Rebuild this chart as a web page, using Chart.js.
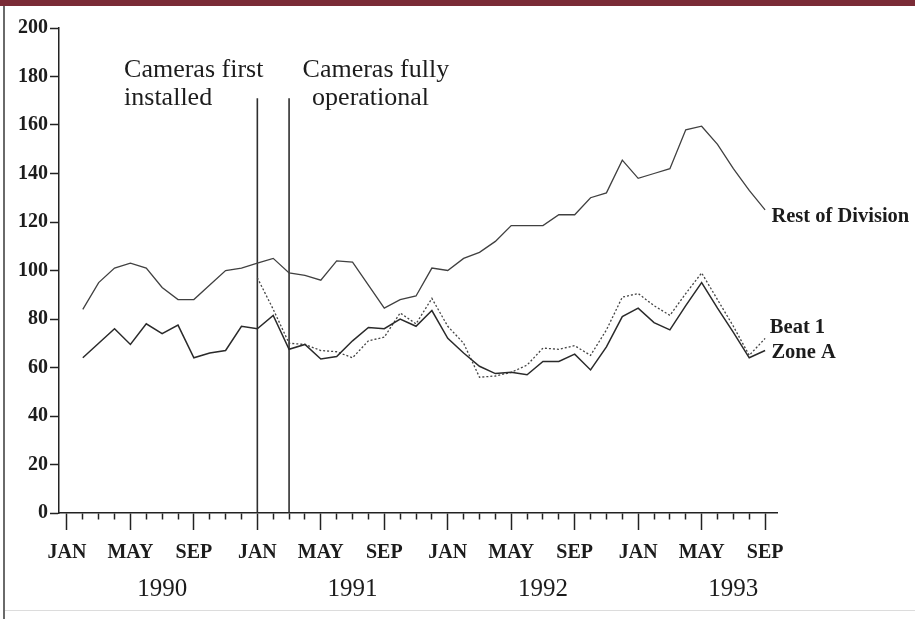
<!DOCTYPE html>
<html>
<head>
  <title>Cameras and crime counts</title>
  <script src="https://cdn.jsdelivr.net/npm/chart.js@4.4.0/dist/chart.umd.min.js"></script>
  <style>
    body { margin: 0; background: #fff; }
    #wrap { position: relative; width: 915px; height: 619px; overflow: hidden; }
    #topbar { position: absolute; left: 0; top: 0; width: 915px; height: 6px; background: #7a2b36; }
    #leftline { position: absolute; left: 3px; top: 6px; width: 2px; height: 613px; background: #6a6a6a; }
    #bottomline { position: absolute; left: 5px; top: 610px; width: 910px; height: 1px; background: #dcdcdc; }
    #chart { position: absolute; left: 0; top: 0; }
  </style>
</head>
<body>
<div id="wrap">
  <div id="topbar"></div>
  <div id="leftline"></div>
  <div id="bottomline"></div>
  <canvas id="chart" width="915" height="619"></canvas>
</div>

<script>
  // months run Jan 1990 (index 0) to Sep 1993 (index 44)
  const monthNames = ['JAN', 'FEB', 'MAR', 'APR', 'MAY', 'JUN', 'JUL', 'AUG', 'SEP', 'OCT', 'NOV', 'DEC'];
  const years = ['1990', '1991', '1992', '1993'];

  const restOfDivision = [null,
    84, 95, 101, 103, 101, 93, 88, 88, 94, 100, 101,
    103, 105, 99, 98, 96, 104, 103.5, 94, 84.5, 88, 89.5, 101,
    100, 105, 107.5, 112, 118.5, 118.5, 118.5, 123, 123, 130, 132, 145.5,
    138, 140, 142, 158, 159.5, 152, 142, 133, 125];

  const zoneA = [null,
    64, 70, 76, 69.5, 78, 74, 77.5, 64, 66, 67, 77,
    76, 81.5, 67.5, 69.5, 63.5, 64.5, 71, 76.5, 76, 80, 77, 83.5,
    72, 66, 60.5, 57.5, 58, 57, 62.5, 62.5, 65.5, 59, 68.5, 81,
    84.5, 78.5, 75.5, 85.5, 95, 84.5, 74.5, 64, 67];

  const beat1 = [null, null, null, null, null, null, null, null, null, null, null, null,
    97, 84, 70, 69.5, 67, 66.5, 64, 71, 72.5, 82.5, 78, 88.5,
    77, 70, 56, 56.5, 58, 61, 68, 67.5, 69, 65, 75.5, 89,
    90.5, 85.5, 81.5, 90.5, 99, 88, 77, 65, 72];

  // camera events: first installed Jan 1991, fully operational Mar 1991
  const eventMonths = [12, 14];
  const eventTop = 171;

  const serif = "'Liberation Serif', 'Times New Roman', serif";
  const ink = '#1c1c1c';

  function toPoints(arr) {
    return arr.map((v, i) => ({ x: i, y: v }));
  }

  // text annotations placed in data coordinates
  const notes = [
    { text: 'Cameras first', x: 3.6, y: 182.5, size: 26, bold: false },
    { text: 'installed', x: 3.6, y: 171, size: 26, bold: false },
    { text: 'Cameras fully', x: 14.85, y: 182.5, size: 26, bold: false },
    { text: 'operational', x: 15.45, y: 171, size: 26, bold: false },
    { text: 'Rest of Division', x: 44.4, y: 122, size: 20.5, bold: true },
    { text: 'Beat 1', x: 44.3, y: 76.5, size: 20.5, bold: true },
    { text: 'Zone A', x: 44.4, y: 66.2, size: 20.5, bold: true }
  ];

  const notesPlugin = {
    id: 'notes',
    afterDatasetsDraw(chart) {
      const ctx = chart.ctx;
      const xs = chart.scales.x, ys = chart.scales.y;
      ctx.save();
      ctx.fillStyle = ink;
      ctx.textBaseline = 'middle';
      ctx.textAlign = 'left';
      notes.forEach(n => {
        ctx.font = (n.bold ? 'bold ' : '') + n.size + 'px ' + serif;
        ctx.fillText(n.text, xs.getPixelForValue(n.x), ys.getPixelForValue(n.y));
      });
      ctx.restore();
    }
  };

  const datasets = [
    { data: toPoints(restOfDivision), borderColor: '#404040', borderWidth: 1.3 },
    { data: toPoints(zoneA), borderColor: '#2a2a2a', borderWidth: 1.5 },
    { data: toPoints(beat1), borderColor: '#444', borderWidth: 1.3, borderDash: [2, 2] }
  ];
  eventMonths.forEach(m => {
    datasets.push({ data: [{ x: m, y: 0 }, { x: m, y: eventTop }], borderColor: '#2e2e2e', borderWidth: 1.6 });
  });
  datasets.forEach(d => { d.pointRadius = 0; d.tension = 0; d.fill = false; d.spanGaps = false; });

  new Chart(document.getElementById('chart'), {
    type: 'line',
    data: { datasets: datasets },
    plugins: [notesPlugin],
    options: {
      responsive: false,
      animation: false,
      events: [],
      layout: { padding: { left: 8, top: 28, right: 138, bottom: 0 } },
      plugins: { legend: { display: false }, tooltip: { enabled: false } },
      scales: {
        x: {
          type: 'linear',
          min: -0.5,
          max: 44.75,
          afterBuildTicks: axis => {
            const ticks = [];
            for (let i = 0; i <= 44; i++) ticks.push({ value: i });
            axis.ticks = ticks;
          },
          afterFit: axis => { axis.height = 106; },
          border: { display: true, color: '#222', width: 1.5 },
          grid: {
            drawOnChartArea: false,
            drawTicks: true,
            tickLength: 17,
            tickWidth: 1.5,
            tickColor: '#222',
            tickBorderDash: c => (c.tick && c.tick.value % 4 === 0) ? [] : [6, 40]
          },
          ticks: {
            autoSkip: false,
            maxRotation: 0,
            padding: 11,
            color: ink,
            font: c => {
              const v = c.tick ? c.tick.value : 0;
              if (v % 12 === 6) return { family: serif, size: 25, weight: 'normal', lineHeight: 1.3 };
              return { family: serif, size: 20, weight: 'bold', lineHeight: 1.2 };
            },
            callback: v => {
              if (v % 4 === 0) return monthNames[v % 12];
              if (v % 12 === 6) return ['', years[(v - 6) / 12]];
              return '';
            }
          }
        },
        y: {
          min: 0,
          max: 200,
          afterFit: axis => { axis.width = 51; },
          border: { display: true, color: '#222', width: 1.5 },
          grid: { drawOnChartArea: false, tickLength: 9, tickWidth: 1.5, tickColor: '#222' },
          ticks: {
            stepSize: 20,
            padding: 2,
            color: ink,
            font: { family: serif, size: 20, weight: 'bold' }
          }
        }
      }
    }
  });
</script>
</body>
</html>
